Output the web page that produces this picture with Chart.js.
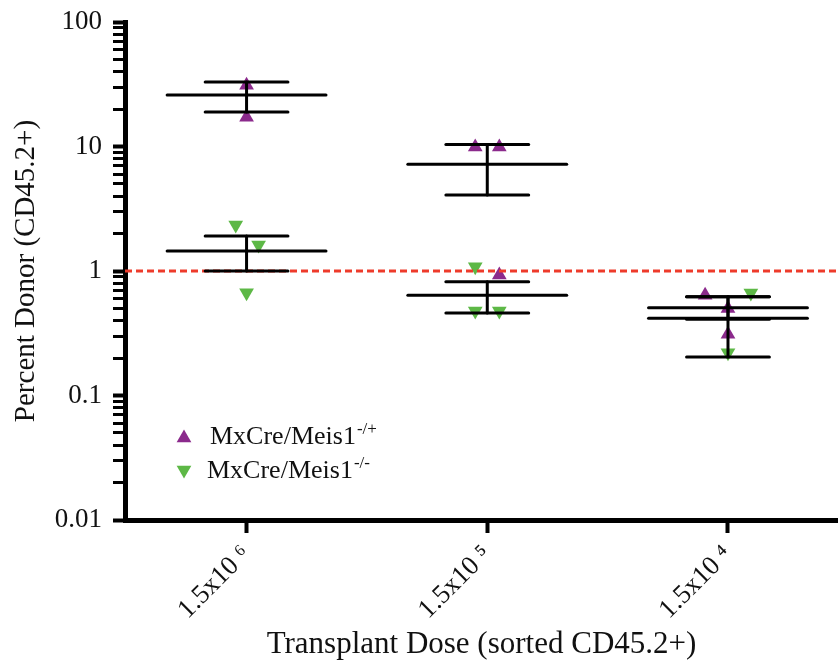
<!DOCTYPE html>
<html lang="en">
<head>
  <meta charset="UTF-8">
  <title>Percent Donor by Transplant Dose</title>
  <script src="https://cdn.jsdelivr.net/npm/chart.js"></script>
  <style>
    html, body { margin: 0; padding: 0; background: #fff; }
    #wrap { width: 838px; height: 665px; }
  </style>
</head>
<body>
  <div id="wrap"><canvas id="donorChart" width="838" height="665"></canvas></div>

  <script>
    // dose groups (x = 1, 2, 3)
    const doseLabels = ['1.5x10 \u2076', '1.5x10 \u2075', '1.5x10 \u2074'];
    const yDecades = [0.01, 0.1, 1, 10, 100];
    const yTickLabels = ['0.01', '0.1', '1', '10', '100'];

    // MxCre/Meis1 -/+ (purple), individual mice
    const hetX = [1, 1, 1.95, 2.05, 2.05, 2.905, 3, 3];
    const hetY = [31, 17.2, 9.9, 9.9, 0.93, 0.64, 0.5, 0.31];
    // mean and error bar ends per dose
    const hetMean = [25.9, 7.2, 0.507];
    const hetLow = [18.9, 4.07, 0.41];
    const hetHigh = [33, 10.4, 0.62];

    // MxCre/Meis1 -/- (green)
    const koX = [0.955, 1.05, 1, 1.95, 1.95, 2.05, 3.095, 3];
    const koY = [2.34, 1.62, 0.67, 1.08, 0.477, 0.477, 0.666, 0.22];
    const koMean = [1.45, 0.64, 0.417];
    const koLow = [1.0, 0.46, 0.204];
    const koHigh = [1.91, 0.82, 0.62];

    const cutoff = 1;

    const purple = '#8b2a8c';
    const green = '#5db846';
    const red = '#ee3b2b';
    const serif = '"Liberation Serif", "Times New Roman", serif';

    const zip = (xs, ys) => xs.map((x, i) => ({ x: x, y: ys[i] }));

    // mean lines + SEM whiskers as plain line segments
    const barSets = [];
    function addSeg(pts) {
      barSets.push({
        type: 'line', data: pts, borderColor: '#000', borderWidth: 3,
        pointRadius: 0, fill: false, order: 0, borderCapStyle: 'round'
      });
    }
    [[hetMean, hetLow, hetHigh], [koMean, koLow, koHigh]].forEach(([m, lo, hi]) => {
      m.forEach((v, i) => {
        const c = i + 1;
        addSeg([{ x: c - 0.33, y: v }, { x: c + 0.33, y: v }]);
        addSeg([{ x: c - 0.172, y: lo[i] }, { x: c + 0.172, y: lo[i] }]);
        addSeg([{ x: c - 0.172, y: hi[i] }, { x: c + 0.172, y: hi[i] }]);
        addSeg([{ x: c, y: lo[i] }, { x: c, y: hi[i] }]);
      });
    });

    // legend drawn by hand so the genotype can carry a superscript
    const legendPlugin = {
      id: 'genoLegend',
      afterDatasetsDraw(chart) {
        const ctx = chart.ctx;
        const rows = [
          { color: purple, rot: 0, y: 438, base: 444, tx: 210, sup: '-/+' },
          { color: green, rot: 180, y: 470, base: 478, tx: 207, sup: '-/-' }
        ];
        ctx.save();
        rows.forEach(r => {
          ctx.fillStyle = r.color;
          ctx.strokeStyle = r.color;
          Chart.helpers.drawPoint(ctx, { pointStyle: 'triangle', radius: 8.5, rotation: r.rot, borderWidth: 0 }, 184, r.y);
          ctx.fillStyle = '#111';
          ctx.textAlign = 'left';
          ctx.textBaseline = 'alphabetic';
          ctx.font = '26px ' + serif;
          ctx.fillText('MxCre/Meis1', r.tx, r.base);
          const w = ctx.measureText('MxCre/Meis1').width;
          ctx.font = '17px ' + serif;
          ctx.fillText(r.sup, r.tx + w + 1, r.base - 10);
        });
        ctx.restore();
      }
    };

    new Chart(document.getElementById('donorChart'), {
      type: 'scatter',
      data: {
        datasets: [
          {
            label: 'MxCre/Meis1 -/+', data: zip(hetX, hetY),
            pointStyle: 'triangle', rotation: 0, pointRadius: 8.5, pointBorderWidth: 0,
            backgroundColor: purple, borderColor: purple, order: 2
          },
          {
            label: 'MxCre/Meis1 -/-', data: zip(koX, koY),
            pointStyle: 'triangle', rotation: 180, pointRadius: 8.5, pointBorderWidth: 0,
            backgroundColor: green, borderColor: green, order: 2
          },
          {
            type: 'line', label: 'cutoff',
            data: [{ x: 0.495, y: cutoff }, { x: 3.457, y: cutoff }],
            borderColor: red, borderWidth: 3, borderDash: [7, 4], pointRadius: 0, order: 1
          },
          ...barSets
        ]
      },
      options: {
        responsive: false,
        animation: false,
        events: [],
        layout: { autoPadding: false, padding: { top: 22, right: 0, bottom: 0, left: 0 } },
        plugins: { legend: { display: false }, tooltip: { enabled: false } },
        scales: {
          x: {
            type: 'linear',
            min: 0.495,
            max: 3.457,
            afterBuildTicks: s => { s.ticks = doseLabels.map((_, i) => ({ value: i + 1 })); },
            afterFit: s => {
              s.height = 145;
              s.paddingLeft = 0; s.paddingRight = 0;
            },
            ticks: {
              autoSkip: false,
              minRotation: 45,
              maxRotation: 45,
              padding: 6,
              color: '#111',
              font: { family: serif, size: 27 },
              callback: v => doseLabels[Math.round(v) - 1]
            },
            grid: {
              display: true, drawOnChartArea: false, drawTicks: true,
              tickLength: 13, tickWidth: 4, tickColor: '#000', color: '#000'
            },
            border: { display: true, color: '#000', width: 5 },
            title: {
              display: true,
              text: 'Transplant Dose (sorted CD45.2+)',
              color: '#111',
              font: { family: serif, size: 31 },
              padding: { top: 0, bottom: 2 }
            }
          },
          y: {
            type: 'logarithmic',
            min: 0.01,
            max: 100,
            afterBuildTicks: s => {
              const t = [];
              yDecades.forEach((d, i) => {
                t.push({ value: d, major: true });
                if (i < yDecades.length - 1) {
                  for (let k = 2; k <= 9; k++) t.push({ value: d * k, major: false });
                }
              });
              s.ticks = t;
            },
            afterFit: s => {
              s.width = 125;
              s.paddingTop = 0; s.paddingBottom = 0;
            },
            ticks: {
              autoSkip: false,
              padding: 11,
              color: '#111',
              font: { family: serif, size: 27 },
              callback: v => {
                const i = yDecades.findIndex(d => Math.abs(Math.log10(v) - Math.log10(d)) < 1e-6);
                return i >= 0 ? yTickLabels[i] : '';
              }
            },
            grid: {
              display: true, drawOnChartArea: false, drawTicks: true,
              tickLength: 12, color: '#000', tickColor: '#000',
              tickWidth: c => (c.tick && c.tick.major ? 4 : 3)
            },
            border: { display: true, color: '#000', width: 5 },
            title: {
              display: true,
              text: 'Percent Donor (CD45.2+)',
              color: '#111',
              font: { family: serif, size: 29 },
              padding: { top: 9, bottom: 0 }
            }
          }
        }
      },
      plugins: [legendPlugin]
    });
  </script>
</body>
</html>
